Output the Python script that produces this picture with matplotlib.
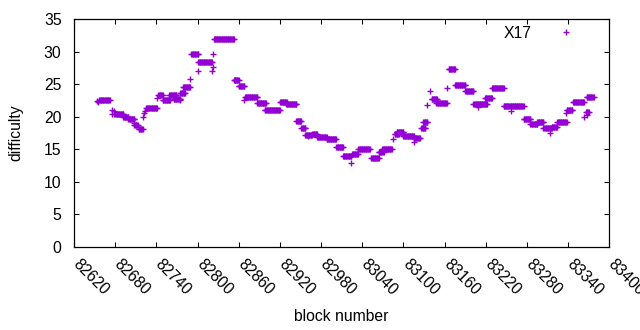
import numpy as np
import matplotlib.pyplot as plt
import matplotlib.transforms as mtransforms

plt.rcParams['font.family'] = ['Liberation Sans', 'DejaVu Sans']
plt.rcParams['font.size'] = 11.3

# runs of blocks that share one difficulty value
run_start = [82657, 82679, 82692, 82699, 82708, 82714, 82725, 82743, 82749, 82759,
             82765, 82775, 82779, 82791, 82801, 82824, 82853, 82860, 82869, 82887,
             82898, 82920, 82929, 82944, 82951, 82957, 82967, 82974, 82988, 83002,
             83012, 83025, 83034, 83053, 83064, 83069, 83087, 83090, 83100, 83115,
             83126, 83129, 83141, 83148, 83166, 83175, 83190, 83202, 83219, 83229,
             83246, 83275, 83285, 83295, 83304, 83316, 83324, 83338, 83347, 83366,
             83367]
run_end = [82672, 82692, 82699, 82708, 82713, 82720, 82741, 82749, 82760, 82769,
           82775, 82782, 82789, 82801, 82821, 82853, 82860, 82868, 82887, 82900,
           82920, 82930, 82944, 82951, 82957, 82967, 82974, 82988, 83002, 83012,
           83024, 83034, 83051, 83064, 83071, 83083, 83093, 83100, 83115, 83124,
           83132, 83135, 83149, 83163, 83175, 83190, 83202, 83222, 83229, 83246,
           83275, 83285, 83295, 83304, 83316, 83324, 83338, 83346, 83363, 83370,
           83377]
run_diff = [22.6, 20.4, 19.9, 19.6, 18.7, 18.1, 21.4, 23.3, 22.6, 23.3,
            22.8, 23.6, 24.5, 29.7, 28.5, 31.9, 25.6, 24.8, 23.0, 22.1,
            21.0, 22.2, 21.9, 19.4, 18.3, 17.2, 17.4, 16.8, 16.5, 15.3,
            13.9, 14.2, 15.0, 13.7, 14.6, 15.0, 17.3, 17.7, 17.1, 16.7,
            18.2, 19.2, 22.8, 22.1, 27.3, 24.9, 23.9, 22.0, 22.9, 24.4,
            21.6, 19.7, 18.8, 19.2, 18.2, 18.4, 19.2, 21.0, 22.2, 20.7,
            23.1]

# single blocks off the runs
single_block = [82653, 82655, 82675, 82676, 82678, 82707, 82721, 82722, 82723, 82741,
                82774, 82789, 82800, 82821, 82822, 82823, 82855, 82867, 82961, 83024,
                83085, 83116, 83134, 83139, 83163, 83208, 83256, 83313, 83337, 83363,
                83368]
single_diff = [22.4, 22.3, 21.0, 20.4, 20.8, 19.1, 19.9, 20.6, 20.8, 22.9,
               22.5, 25.8, 27.1, 27.1, 27.7, 29.7, 25.7, 22.6, 17.0, 12.9,
               16.5, 16.1, 21.8, 24.0, 24.4, 21.5, 20.8, 17.5, 20.5, 19.9,
               20.3]

blocks = list(single_block)
diffs = list(single_diff)
for s, e, d in zip(run_start, run_end, run_diff):
    for b in range(s, e + 1):
        blocks.append(b)
        diffs.append(d)

fig = plt.figure(figsize=(6.4, 3.3), dpi=100)
ax = fig.add_axes([0.1156, 0.253, 0.8365, 0.6885])

ax.plot(blocks, diffs, '+', color='#9400d3', ms=5, mew=1.0, label='X17')

ax.set_xlim(82620, 83400)
ax.set_ylim(0, 35)
ax.set_xticks(np.arange(82620, 83401, 60))
ax.set_yticks(np.arange(0, 36, 5))
ax.tick_params(direction='in', top=True, right=True, length=3.5, width=0.75)
ax.tick_params(axis='y', pad=9)
ax.tick_params(axis='x', pad=5)

# gnuplot style rotated labels, nudged so the first digit sits under the tick
shift = mtransforms.ScaledTranslation(5 / 72, -2 / 72, fig.dpi_scale_trans)
for lbl in ax.get_xticklabels():
    lbl.set_rotation(-45)
    lbl.set_ha('left')
    lbl.set_va('top')
    lbl.set_rotation_mode('anchor')
    lbl.set_transform(lbl.get_transform() + shift)
for sp in ax.spines.values():
    sp.set_linewidth(0.9)

ax.set_xlabel('block number')
ax.set_ylabel('difficulty')
ax.xaxis.set_label_coords(0.5, -0.275)
ax.yaxis.set_label_coords(-0.095, 0.5)

ax.legend(loc='upper right', bbox_to_anchor=(0.96, 1.0), markerfirst=False,
          frameon=False, handlelength=2, handletextpad=1.2, borderaxespad=0)

fig.savefig('out.png', dpi=100)
